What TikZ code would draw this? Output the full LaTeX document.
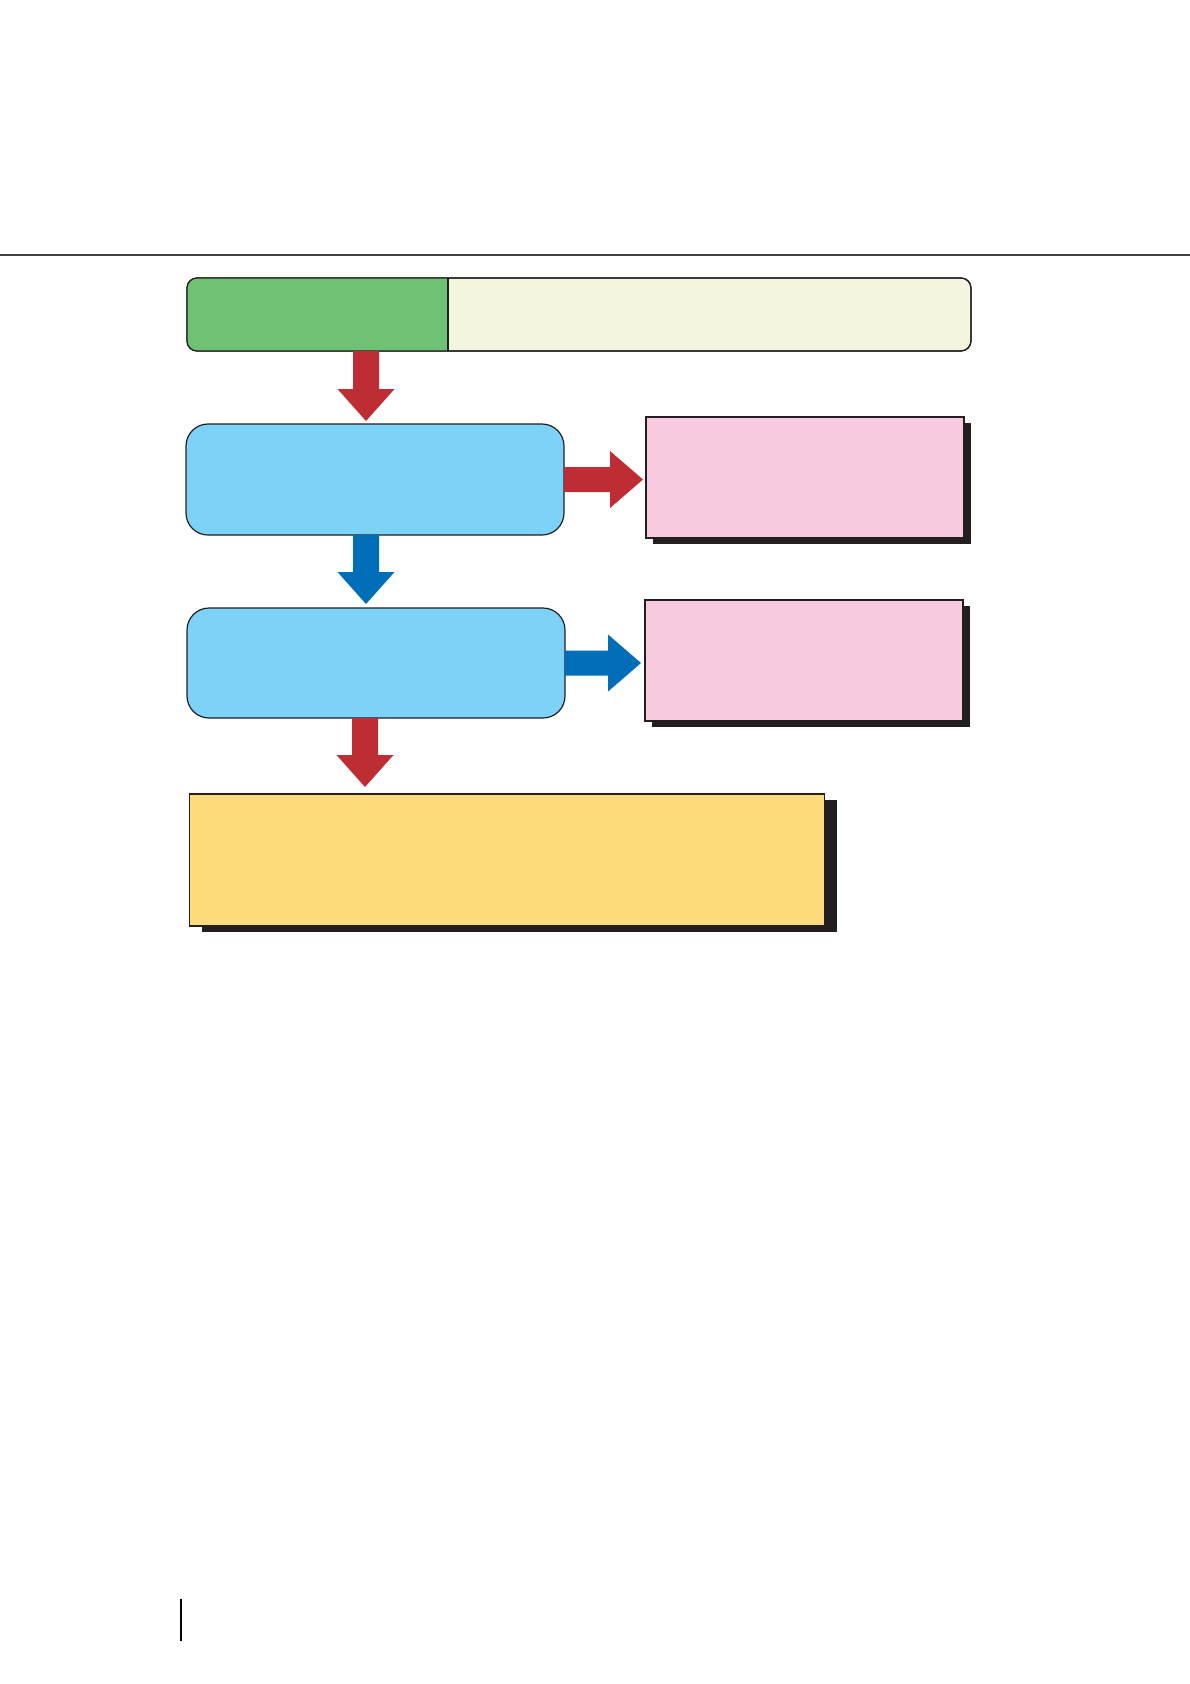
\documentclass[tikz,border=0pt]{standalone}
\usetikzlibrary{calc,shadows}
\definecolor{grn}{HTML}{6FC274}
\definecolor{crm}{HTML}{F4F4DF}
\definecolor{lblue}{HTML}{7DD3F7}
\definecolor{pnk}{HTML}{F8CAE0}
\definecolor{ylw}{HTML}{FDDA7C}
\definecolor{rarr}{HTML}{BE2D33}
\definecolor{barr}{HTML}{006DB8}
\definecolor{shc}{HTML}{231F20}
\newcommand\myDownArrow[3]{%
  \fill[#1] let \p1=(#2), \p2=(#3) in
    (\x1-13pt,\y1) -- (\x1-13pt,\y2+32pt) -- (\x1-28.5pt,\y2+32pt) -- (\x1,\y2)
    -- (\x1+28.5pt,\y2+32pt) -- (\x1+13pt,\y2+32pt) -- (\x1+13pt,\y1) -- cycle;}
\newcommand\myRightArrow[3]{%
  \fill[#1] let \p1=(#2), \p2=(#3) in
    (\x1,\y1+12.5pt) -- (\x2-33pt,\y1+12.5pt) -- (\x2-33pt,\y1+28.5pt) -- (\x2,\y1)
    -- (\x2-33pt,\y1-28.5pt) -- (\x2-33pt,\y1-12.5pt) -- (\x1,\y1-12.5pt) -- cycle;}
\begin{document}
\begin{tikzpicture}[x=1pt,y=-1pt,
  boxbase/.style={draw=shc,line width=1.2pt,inner sep=0pt,outer sep=0pt},
  stepbar/.style={boxbase,fill=crm,rounded corners=10pt,minimum width=784pt,minimum height=73pt},
  stepblue/.style={boxbase,fill=lblue,rounded corners=22pt,minimum width=378pt,minimum height=111pt},
  notebox/.style={boxbase,fill=pnk,minimum width=318pt,minimum height=121pt,
    drop shadow={shadow xshift=7pt,shadow yshift=-6pt,fill=shc,opacity=1}},
  resultbox/.style={boxbase,fill=ylw,minimum width=635pt,minimum height=132pt,
    drop shadow={shadow xshift=12pt,shadow yshift=-6pt,fill=shc,opacity=1}},
  redfill/.style={fill=rarr},
  bluefill/.style={fill=barr}]
\useasboundingbox (0,0) rectangle (1190,1684);
\fill[white] (0,0) rectangle (1190,1684);
% header rule and footer mark
\coordinate (hl) at (0,255);
\coordinate (hr) at (1190,255);
\draw[line width=1.5pt,color=shc!85] (hl) -- (hr);
\coordinate (ft) at (181,1599);
\coordinate (fb) at (181,1641);
\draw[line width=2pt,black] (ft) -- (fb);
% top bar
\node[stepbar] (bar) at (579,314.5) {};
\node[inner sep=0pt,outer sep=0pt,minimum width=261pt,minimum height=73pt] (barL) at (317.5,314.5) {};
\begin{scope}
  \clip (barL.north west) rectangle (barL.south east);
  \fill[grn,rounded corners=10pt] (bar.north west) rectangle (bar.south east);
\end{scope}
\draw[shc,line width=1.2pt,rounded corners=10pt] (bar.north west) rectangle (bar.south east);
\draw[shc,line width=1.2pt] (barL.north east) -- (barL.south east);
% boxes
\node[stepblue] (b1) at (375,479.5) {};
\node[stepblue,minimum height=110pt] (b2) at (376,663) {};
\node[notebox] (p1) at (805,477.5) {};
\node[notebox] (p2) at (804,660.5) {};
\node[resultbox] (res) at (507,860) {};
% arrows
\coordinate (ax) at (366,0);
\coordinate (ax3) at (365,0);
\coordinate (s1) at (ax |- bar.south);
\coordinate (e1) at ($(ax |- b1.north)+(0,-3)$);
\coordinate (s2) at (ax |- b1.south);
\coordinate (e2) at ($(ax |- b2.north)+(0,-4)$);
\coordinate (s3) at (ax3 |- b2.south);
\coordinate (e3) at ($(ax3 |- res.north)+(0,-7)$);
\myDownArrow{redfill}{s1}{e1}
\myDownArrow{bluefill}{s2}{e2}
\myDownArrow{redfill}{s3}{e3}
\coordinate (r1s) at (b1.east);
\coordinate (r1e) at ($(p1.west |- b1.east)+(-3,0)$);
\coordinate (r2s) at (b2.east);
\coordinate (r2e) at ($(p2.west |- b2.east)+(-4,0)$);
\myRightArrow{redfill}{r1s}{r1e}
\myRightArrow{bluefill}{r2s}{r2e}
\end{tikzpicture}
\end{document}
